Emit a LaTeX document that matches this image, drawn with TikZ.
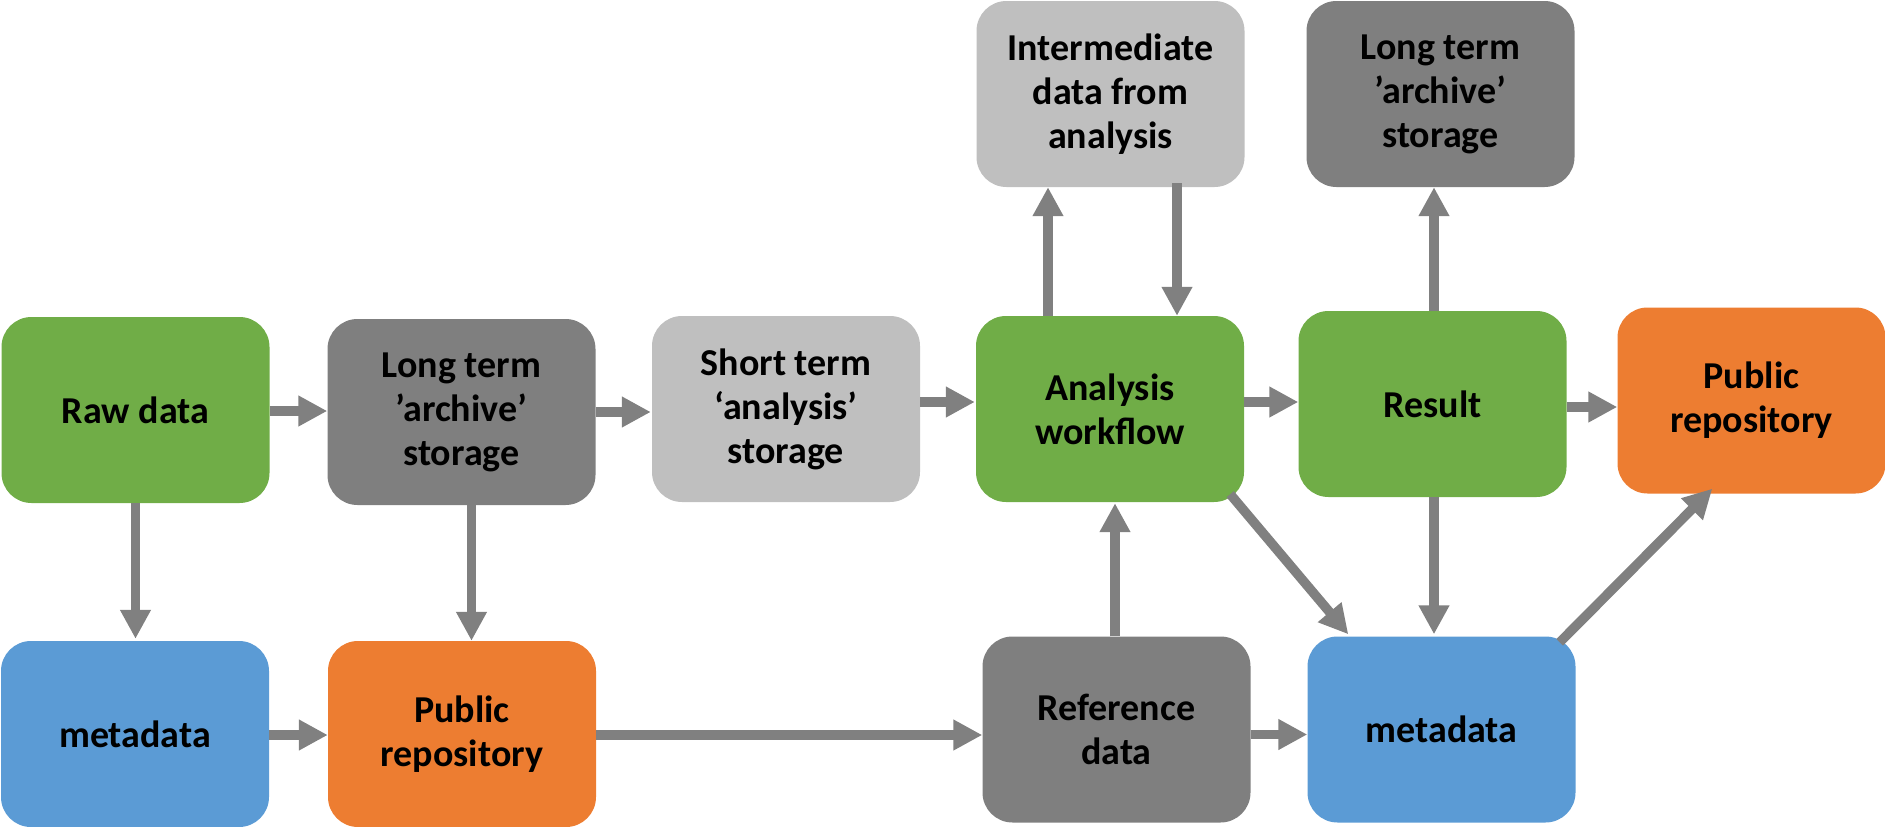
\documentclass[tikz,border=0pt]{standalone}
\usepackage{fontspec}
\setmainfont{Carlito}
\usetikzlibrary{arrows.meta}
\definecolor{cgreen}{HTML}{70AD47}
\definecolor{cdark}{HTML}{7F7F7F}
\definecolor{clight}{HTML}{BFBFBF}
\definecolor{cblue}{HTML}{5B9BD5}
\definecolor{corange}{HTML}{ED7D31}
\definecolor{carrow}{HTML}{808080}
\begin{document}
\begin{tikzpicture}[x=1pt,y=-1pt,
  box/.style={rounded corners=30pt, minimum width=268pt, minimum height=186pt,
    inner sep=0pt, align=center, text=black,
    font=\bfseries\fontsize{38}{44}\selectfont},
  flow/.style={draw=carrow, line width=9.5pt,
    -{Triangle[width=29pt,length=29pt]}}
]
\useasboundingbox (0,0) rectangle (1885,827);

% top row
\node[box, fill=clight] (inter) at (1110.5,94) {Intermediate\\data from\\analysis};
\node[box, fill=cdark] (lt2) at (1440.5,94) {Long term\\’archive’\\storage};

% middle row
\node[box, fill=cgreen] (raw) at (135.5,410) {Raw data};
\node[box, fill=cdark] (lt1) at (461.5,412) {Long term\\’archive’\\storage};
\node[box, fill=clight] (st) at (786,409) {Short term\\‘analysis’\\storage};
\node[box, fill=cgreen] (aw) at (1110,409) {Analysis\\workflow};
\node[box, fill=cgreen] (res) at (1432.5,404) {Result};
\node[box, fill=corange] (pub2) at (1751.5,400.5) {Public\\repository};

% bottom row
\node[box, fill=cblue] (meta1) at (135,734) {metadata};
\node[box, fill=corange] (pub1) at (462,734) {Public\\repository};
\node[box, fill=cdark] (ref) at (1116.5,729.5) {Reference\\data};
\node[box, fill=cblue] (meta2) at (1441.5,729.5) {metadata};

% horizontal connectors
\draw[flow] ([yshift=-1pt]raw.east) -- ([yshift=-1pt]raw.east -| lt1.west);
\draw[flow] (lt1.east) -- ([xshift=-1pt]lt1.east -| st.west);
\draw[flow] ([yshift=7pt]st.east) -- ([yshift=7pt,xshift=-1pt]st.east -| aw.west);
\draw[flow] ([yshift=7pt]aw.east) -- ([yshift=7pt]aw.east -| res.west);
\draw[flow] ([yshift=-3pt]res.east) -- ([yshift=-3pt]res.east -| pub2.west);
\draw[flow] ([yshift=-1pt]meta1.east) -- ([yshift=-1pt]meta1.east -| pub1.west);
\draw[flow] ([yshift=-1pt]pub1.east) -- ([yshift=-1pt]pub1.east -| ref.west);
\draw[flow] ([yshift=-5pt]ref.east) -- ([yshift=-5pt]ref.east -| meta2.west);

% vertical connectors
\draw[flow] (raw.south) -- ([yshift=2pt]raw.south |- meta1.north);
\draw[flow] ([xshift=10pt]lt1.south) -- ([xshift=10pt]lt1.south |- pub1.north);
\draw[flow] ([xshift=-1.5pt]ref.north) -- ([xshift=-1.5pt,yshift=-1pt]ref.north |- aw.south);
\draw[flow] ([xshift=-62pt]aw.north) -- ([xshift=-62pt]aw.north |- inter.south);
\draw[flow] ([xshift=66.5pt,yshift=4pt]inter.south) -- ([xshift=66.5pt]inter.south |- aw.north);
\draw[flow] ([xshift=1.5pt]res.north) -- ([xshift=1.5pt]res.north |- lt2.south);
\draw[flow] ([xshift=1.5pt]res.south) -- ([xshift=1.5pt,yshift=2pt]res.south |- meta2.north);

% diagonal connectors
\draw[flow] ([shift={(-14,-8)}]aw.south east) -- ([shift={(41,-2)}]meta2.north west);
\draw[flow] ([shift={(-16,6)}]meta2.north east) -- ([shift={(95,-5)}]pub2.south west);
\end{tikzpicture}
\end{document}
